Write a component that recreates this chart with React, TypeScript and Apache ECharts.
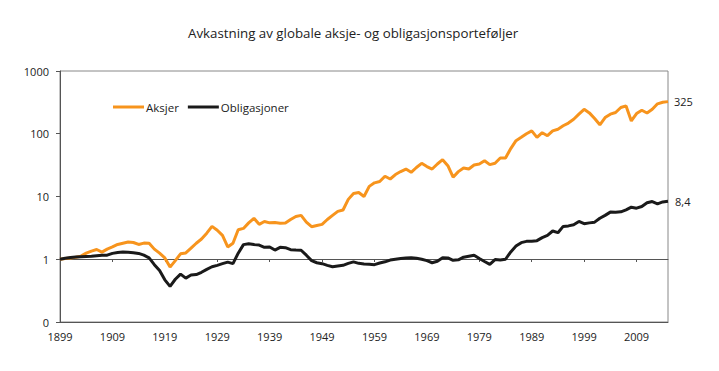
import React, { useEffect, useRef } from "react";
import * as echarts from "echarts";

const years: string[] = Array.from({ length: 117 }, (_, i) => String(1899 + i));

const aksjer: number[] = [
  1.0, 1.03, 1.05, 1.08, 1.12, 1.25, 1.35, 1.43, 1.3, 1.45,
  1.57, 1.72, 1.8, 1.88, 1.85, 1.72, 1.81, 1.8, 1.45, 1.25,
  1.05, 0.75, 0.95, 1.22, 1.26, 1.5, 1.8, 2.1, 2.6, 3.34,
  2.9, 2.4, 1.57, 1.8, 2.95, 3.1, 3.8, 4.5, 3.6, 4.0,
  3.8, 3.85, 3.75, 3.78, 4.3, 4.8, 5.0, 3.9, 3.3, 3.45,
  3.6, 4.3, 5.0, 5.8, 6.1, 9.0, 11.2, 11.6, 10.0, 14.5,
  16.5, 17.3, 21.0, 19.0, 22.4, 25.0, 27.4, 24.3, 29.0, 33.8,
  30.0, 27.4, 33.0, 38.6, 31.0, 20.3, 24.9, 28.5, 27.4, 31.8,
  33.0, 37.2, 32.2, 33.8, 41.0, 41.0, 58.0, 77.5, 87.6, 100,
  111, 87.6, 104, 93, 111, 118, 134, 148, 170, 205,
  245, 215, 175, 139, 181, 205, 218, 262, 278, 160,
  210, 237, 214, 245, 300, 318, 325,
];

const obligasjoner: number[] = [
  1.0, 1.04, 1.07, 1.09, 1.1, 1.11, 1.12, 1.14, 1.16, 1.16,
  1.24, 1.28, 1.3, 1.29, 1.27, 1.24, 1.16, 1.05, 0.82, 0.66,
  0.47, 0.37, 0.48, 0.58, 0.5, 0.56, 0.57, 0.62, 0.69, 0.76,
  0.8, 0.85, 0.9, 0.85, 1.25, 1.71, 1.77, 1.72, 1.68, 1.55,
  1.57, 1.4, 1.55, 1.53, 1.42, 1.4, 1.39, 1.16, 0.95, 0.88,
  0.85, 0.8, 0.76, 0.78, 0.8, 0.86, 0.91, 0.86, 0.84, 0.83,
  0.82, 0.87, 0.91, 0.97, 1.0, 1.03, 1.05, 1.06, 1.04, 1.0,
  0.95, 0.88, 0.93, 1.06, 1.05, 0.96, 0.98, 1.08, 1.12, 1.16,
  1.03, 0.92, 0.83, 0.99, 0.97, 1.0, 1.31, 1.62, 1.84, 1.93,
  1.94, 1.98, 2.21, 2.4, 2.82, 2.65, 3.34, 3.4, 3.55, 4.0,
  3.68, 3.8, 3.9, 4.5, 5.0, 5.64, 5.6, 5.7, 6.13, 6.75,
  6.52, 6.93, 7.93, 8.32, 7.65, 8.2, 8.4,
];

const titleText = "Avkastning av globale aksje- og obligasjonsporteføljer";
const FONT = "'Open Sans', 'Noto Sans', sans-serif";

export default function App() {
  const ref = useRef<HTMLDivElement>(null);
  useEffect(() => {
    if (!ref.current) return;
    const chart = echarts.init(ref.current, null, { renderer: "svg" });
    const fmtEnd = (p: any) => String(p.value).replace(".", ",");
    chart.setOption({
      animation: false,
      backgroundColor: "#ffffff",
      textStyle: { fontFamily: FONT },
      title: {
        text: titleText,
        left: 183,
        top: 21,
        textStyle: { fontSize: 13.3, fontWeight: "normal", color: "#222", fontFamily: FONT },
      },
      legend: {
        left: 108,
        top: 96,
        icon: "rect",
        itemWidth: 31,
        itemHeight: 3,
        itemGap: 9,
        textStyle: { fontSize: 11.5, color: "#222", fontFamily: FONT, padding: [0, 0, 0, -3] },
        data: ["Aksjer", "Obligasjoner"],
      },
      grid: {
        left: 60,
        right: 51,
        top: 71,
        bottom: 49,
        show: true,
        borderColor: "#888",
        borderWidth: 1,
      },
      xAxis: [
        {
          type: "category",
          data: years,
          boundaryGap: false,
          axisLine: { show: true, lineStyle: { color: "#555", width: 1 } },
          axisTick: { show: false },
          axisLabel: {
            interval: (i: number) => i % 10 === 0,
            fontSize: 11,
            color: "#222",
            margin: 9,
            fontFamily: FONT,
          },
          splitLine: { show: false },
        },
        {
          type: "category",
          data: years,
          boundaryGap: false,
          position: "bottom",
          offset: -63,
          axisLine: { show: true, lineStyle: { color: "#555", width: 1 } },
          axisTick: {
            show: true,
            length: 3,
            interval: (i: number) => i % 10 === 0,
            lineStyle: { color: "#555" },
          },
          axisLabel: { show: false },
          splitLine: { show: false },
        },
      ],
      yAxis: {
        type: "log",
        logBase: 10,
        min: 0.1,
        max: 1000,
        axisLine: { show: true, lineStyle: { color: "#555", width: 1 } },
        axisTick: { show: true, length: 4, lineStyle: { color: "#555" } },
        axisLabel: {
          fontSize: 11,
          color: "#222",
          margin: 11,
          fontFamily: FONT,
          formatter: (v: number) => (v < 1 ? "0" : String(Math.round(v))),
        },
        splitLine: { show: false },
      },
      series: [
        {
          name: "Aksjer",
          type: "line",
          data: aksjer,
          showSymbol: false,
          symbol: "none",
          lineStyle: { color: "#F7941D", width: 3 },
          itemStyle: { color: "#F7941D" },
          endLabel: { show: true, formatter: fmtEnd, fontSize: 11, color: "#222", distance: 6, fontFamily: FONT },
        },
        {
          name: "Obligasjoner",
          type: "line",
          data: obligasjoner,
          showSymbol: false,
          symbol: "none",
          lineStyle: { color: "#1a1a1a", width: 3 },
          itemStyle: { color: "#1a1a1a" },
          endLabel: { show: true, formatter: fmtEnd, fontSize: 11, color: "#222", distance: 7, fontFamily: FONT },
        },
      ],
    });
    return () => chart.dispose();
  }, []);
  return (
    <div
      ref={ref}
      style={{ position: "fixed", left: 0, top: 0, width: 719, height: 371 }}
    />
  );
}
